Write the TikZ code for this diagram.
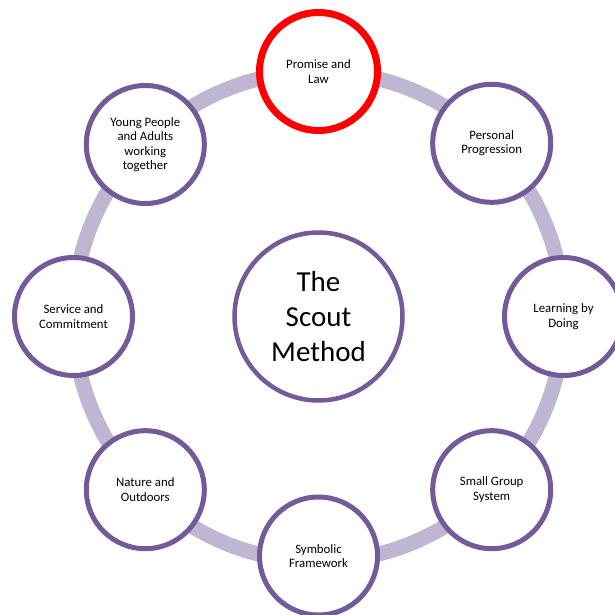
\documentclass[tikz,border=0pt]{standalone}
\usepackage{fontspec}
\setmainfont{Carlito}
\usetikzlibrary{calc}
\definecolor{ringc}{HTML}{BFB6D1}
\definecolor{purp}{HTML}{735A98}
\definecolor{redc}{HTML}{FF0000}
\begin{document}
\begin{tikzpicture}[x=1pt,y=-1pt,
  item/.style={circle,draw=purp,line width=5pt,fill=white,minimum size=118pt,inner sep=0pt,
    align=center,font=\fontsize{12.8pt}{14.5pt}\selectfont},
  hot/.style={item,draw=redc,line width=7pt},
  hub/.style={circle,draw=purp,line width=4.5pt,fill=white,minimum size=168pt,inner sep=0pt,
    align=center,font=\fontsize{29pt}{35pt}\selectfont},
  ring/.style={draw=ringc,line width=15pt}]
\useasboundingbox (0,0) rectangle (614,615);
\coordinate (C) at (318.5,316.5);
\draw[ring] (C) circle[radius=245];
\node[hub] (hub) at (C) {The\\Scout\\Method};
\node[hot]  (promise)  at ($(C)+(0,-245)$) {Promise and\\Law};
\node[item] (personal) at ($(C)+(173.2,-173.2)$) {Personal\\Progression};
\node[item] (learning) at ($(C)+(245,0)$) {Learning by\\Doing};
\node[item] (small)    at ($(C)+(173.2,173.2)$) {Small Group\\System};
\node[item] (symbolic) at ($(C)+(0,239.5)$) {Symbolic\\Framework};
\node[item] (nature)   at ($(C)+(-173.2,173.2)$) {Nature and\\Outdoors};
\node[item] (service)  at ($(C)+(-245,0)$) {Service and\\Commitment};
\node[item] (young)    at ($(C)+(-173.2,-172)$) {Young People\\and Adults\\working\\together};
\end{tikzpicture}
\end{document}
